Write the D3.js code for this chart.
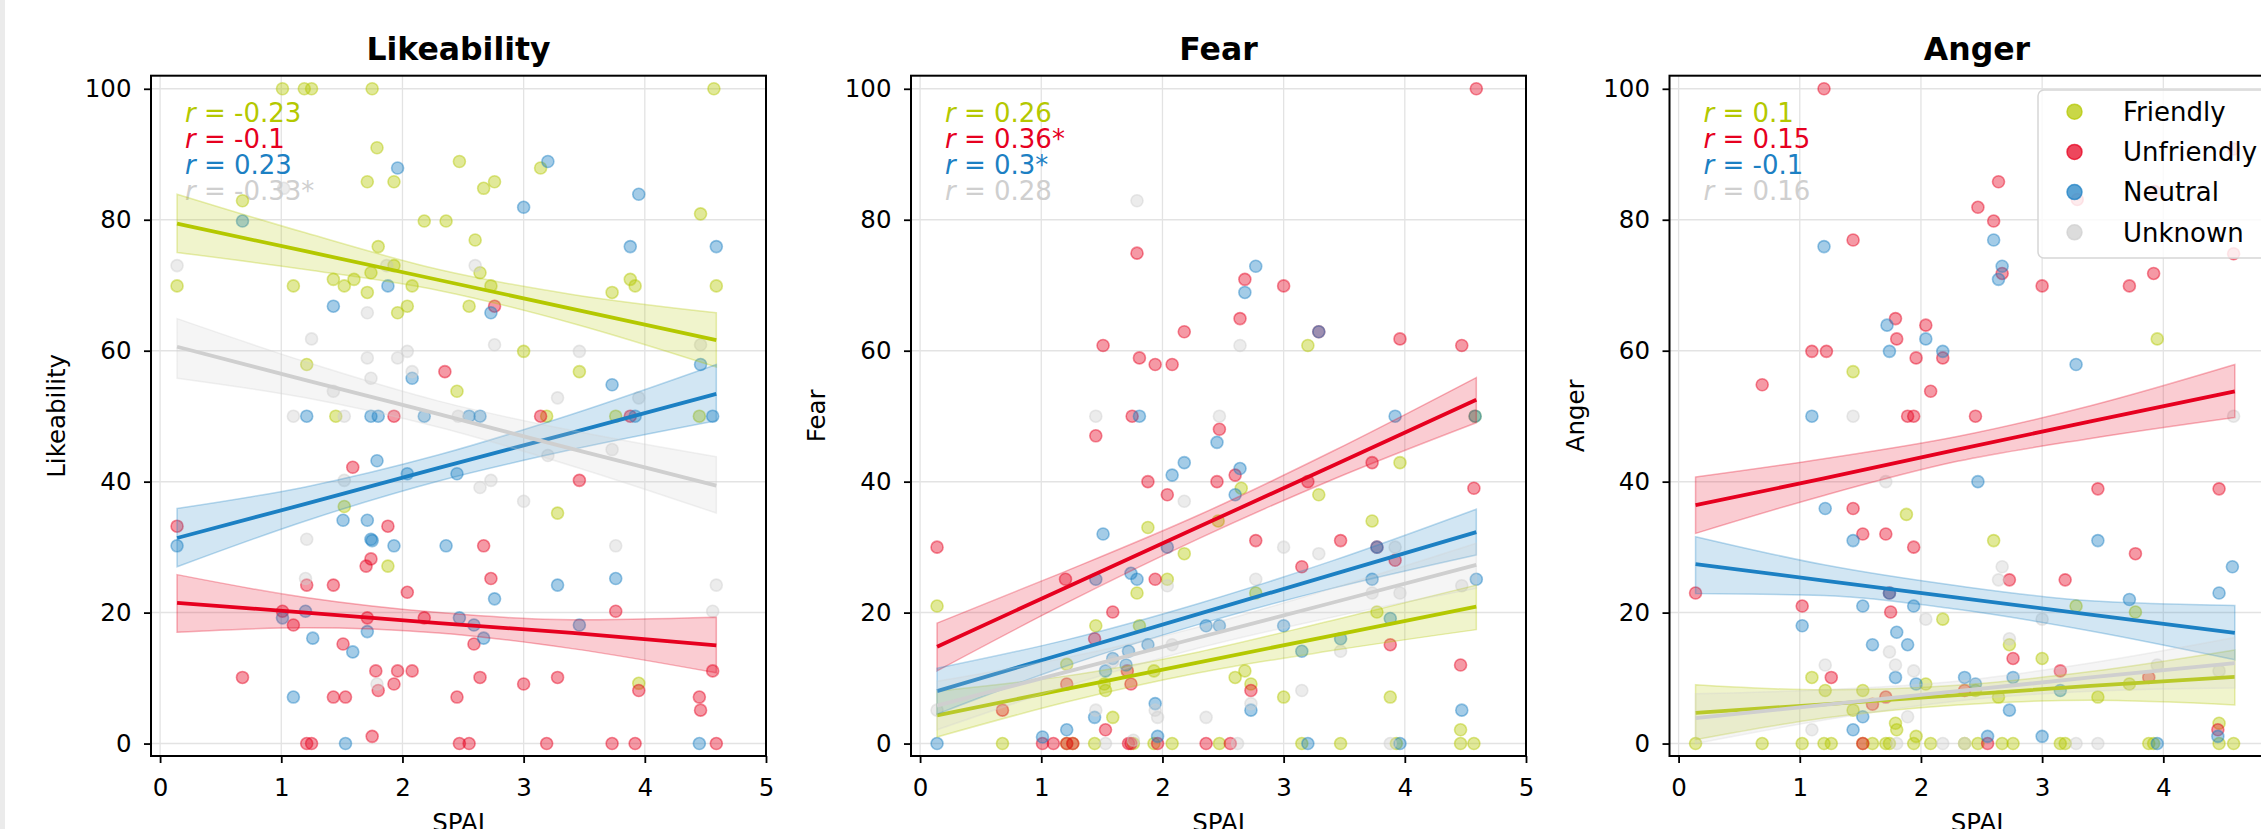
<!DOCTYPE html>
<html><head><meta charset="utf-8">
<script src="https://cdn.jsdelivr.net/npm/d3@7"></script>
<style>
html,body{margin:0;padding:0;background:#fff;overflow:hidden}
svg{display:block;font-family:"DejaVu Sans",sans-serif}
</style></head><body>
<svg id="chart" width="2261" height="829"></svg>
<script>
// ---------------- DATA ----------------
const panels = ["Likeability", "Fear", "Anger"];
const groups = ["Friendly", "Unfriendly", "Neutral", "Unknown"];
const xTicks = [0, 1, 2, 3, 4, 5];
const yTicks = [0, 20, 40, 60, 80, 100];
const xLabel = "SPAI";

const rLikeability = ["-0.23", "-0.1", "0.23", "-0.33*"];
const rFear = ["0.26", "0.36*", "0.3*", "0.28"];
const rAnger = ["0.1", "0.15", "-0.1", "0.16"];

// scatter points [SPAI, score]
const likeFriendly = [[1.01,100],[1.19,100],[1.25,100],[1.75,100],[4.57,100],[1.79,91],[2.47,88.9],[3.14,87.9],[1.71,85.8],[1.93,85.8],[2.76,85.8],[2.67,84.8],[0.68,82.9],[4.46,80.9],[2.18,79.8],[2.36,79.8],[2.60,76.9],[1.80,75.9],[1.93,73],[2.64,71.9],[1.43,70.9],[1.60,70.9],[3.88,70.9],[3.92,69.9],[0.14,69.9],[1.10,69.9],[1.52,69.9],[2.08,69.9],[2.73,69.9],[3.73,68.9],[4.59,69.9],[1.74,71.9],[1.71,68.9],[2.04,66.8],[1.96,65.8],[2.55,66.8],[3.0,59.9],[1.21,57.9],[3.46,56.8],[2.45,53.8],[1.45,50],[3.19,50],[3.76,50],[4.45,50],[1.52,36.2],[3.28,35.2],[1.88,27.1],[3.95,9.2]];
const likeUnfriendly = [[2.76,66.8],[2.35,56.8],[1.93,50],[3.14,50],[3.88,50],[1.59,42.2],[3.46,40.2],[0.14,33.2],[1.88,33.2],[2.67,30.2],[1.74,28.2],[1.70,27.1],[2.73,25.2],[1.21,24.2],[1.43,24.2],[2.04,23.1],[1.01,20.2],[3.76,20.2],[1.10,18.1],[1.71,19.2],[2.18,19.2],[1.51,15.2],[2.59,15.2],[0.68,10.1],[1.78,11.1],[1.96,11.1],[2.08,11.1],[2.64,10.1],[3.28,10.1],[4.56,11.1],[3.0,9.1],[1.93,9.1],[1.80,8.1],[3.95,8.1],[1.43,7.1],[1.53,7.1],[2.45,7.1],[4.45,7.1],[4.46,5.1],[1.75,1.1],[1.21,0],[1.25,0],[2.47,0],[2.55,0],[3.19,0],[3.73,0],[3.92,0],[4.59,0]];
const likeNeutral = [[1.96,87.9],[3.20,88.9],[3.95,83.9],[3.0,81.9],[0.68,79.8],[3.88,75.9],[4.59,75.9],[1.88,69.9],[1.43,66.8],[2.73,65.8],[2.08,55.8],[3.73,54.8],[4.46,57.9],[1.21,50],[1.74,50],[1.80,50],[2.18,50],[2.55,50],[2.64,50],[3.92,50],[4.56,50],[1.79,43.2],[2.04,41.2],[2.45,41.2],[1.51,34.1],[1.71,34.1],[1.74,31.2],[1.75,31.0],[0.14,30.2],[1.93,30.2],[2.36,30.2],[3.76,25.2],[3.28,24.2],[2.76,22.1],[1.01,19.2],[1.20,20.2],[2.47,19.2],[2.59,18.1],[3.46,18.1],[1.71,17.1],[1.26,16.1],[2.67,16.1],[1.59,14.0],[1.10,7.1],[1.53,0],[4.45,0]];
const likeUnknown = [[1.02,84.8],[0.14,73.0],[1.87,73],[2.60,73],[1.71,65.8],[1.25,61.8],[2.04,59.9],[1.71,58.9],[1.96,58.9],[2.76,60.9],[3.46,59.9],[4.46,60.9],[1.74,55.8],[2.08,56.8],[1.43,53.8],[3.28,52.8],[3.95,52.8],[1.10,50],[1.52,50],[2.46,50],[3.73,44.9],[3.20,44.0],[1.52,40.2],[2.64,39.1],[2.73,40.2],[3.0,37.0],[1.21,31.2],[3.76,30.2],[1.20,25.2],[4.59,24.2],[4.56,20.2],[1.79,9.1]];

const fearFriendly = [[3.20,60.8],[4.58,50],[2.65,39.0],[3.29,38.0],[3.96,42.9],[1.88,33.0],[2.46,34.0],[3.73,34.0],[2.18,29.0],[2.04,25.1],[1.79,23.0],[2.77,23.0],[0.14,21.0],[3.77,20.1],[1.45,18.0],[1.81,18.0],[1.93,11.1],[2.68,11.1],[1.21,12.1],[1.52,9.1],[1.53,8.1],[2.60,10.1],[2.73,9.1],[3.0,7.1],[3.88,7.1],[1.59,4.0],[4.46,2.1],[0.68,0],[1.21,0],[1.44,0],[1.76,0],[1.93,0],[2.08,0],[2.47,0],[3.15,0],[3.47,0],[3.93,0],[4.46,0],[4.57,0],[1.26,0]];
const fearUnfriendly = [[4.59,100],[1.79,74.9],[2.68,70.9],[3.0,69.9],[2.64,64.9],[2.18,62.9],[3.29,62.9],[1.51,60.8],[3.96,61.8],[4.47,60.8],[1.81,58.9],[1.94,57.9],[2.08,57.9],[1.75,50],[1.45,47.0],[2.47,48.0],[2.60,41.0],[1.88,40.0],[2.45,40.0],[2.04,38.0],[3.20,40.0],[3.73,42.9],[4.57,39.0],[0.14,30.0],[2.77,31.0],[3.47,31.0],[3.77,30.0],[3.92,28.0],[1.20,25.1],[1.94,25.1],[3.15,27.0],[1.59,20.1],[1.44,16.0],[3.88,15.1],[1.71,11.1],[4.46,12.0],[1.21,9.1],[1.74,9.1],[2.73,8.1],[0.68,5.1],[1.53,2.1],[1.01,0],[1.10,0],[1.21,0],[1.26,0],[1.72,0],[1.74,0],[1.96,0],[2.36,0],[2.56,0]];
const fearNeutral = [[2.77,72.9],[2.68,68.9],[3.29,62.9],[1.81,50],[3.92,50],[4.58,50],[2.45,46.0],[2.18,42.9],[2.08,41.0],[2.64,42.0],[2.60,38.0],[1.51,32.0],[2.04,30.0],[3.77,30.0],[1.45,25.1],[1.74,26.0],[1.79,25.1],[3.73,25.1],[4.59,25.1],[3.88,19.1],[2.36,18.0],[2.47,18.0],[3.0,18.0],[1.88,15.1],[3.47,16.0],[3.15,14.1],[1.59,13.0],[1.72,14.1],[1.70,12.0],[1.53,11.1],[2.73,5.1],[4.47,5.1],[1.94,6.1],[1.44,4.0],[1.21,2.1],[1.96,1.1],[0.14,0],[1.01,1.0],[3.20,0],[3.96,0]];
const fearUnknown = [[1.79,82.9],[2.64,60.8],[1.45,50],[2.47,50],[2.18,37.0],[3.0,30.0],[3.29,29.0],[3.92,30.0],[2.04,24.1],[2.77,25.1],[3.73,23.0],[3.96,23.0],[4.47,24.1],[2.08,15.1],[3.47,14.1],[2.73,6.1],[3.15,8.1],[0.14,5.1],[1.45,5.1],[1.94,5.1],[1.96,4.0],[2.36,4.0],[1.53,0],[2.62,0],[3.88,0],[1.76,0.5],[1.59,12.5]];

const angerFriendly = [[3.95,61.8],[1.44,56.8],[1.88,35.0],[2.60,31.0],[3.28,21.0],[3.77,20.1],[2.18,19.0],[2.73,15.1],[3.0,13.0],[1.10,10.1],[2.04,9.1],[3.72,9.1],[1.21,8.1],[1.52,8.1],[2.45,8.1],[2.64,7.1],[3.46,7.1],[1.44,5.1],[1.79,3.1],[1.80,2.1],[1.96,1.1],[4.46,3.1],[0.14,0],[0.69,0],[1.02,0],[1.20,0],[1.26,0],[1.52,0],[1.60,0],[1.71,0],[1.74,0],[1.94,0],[2.08,0],[2.36,0],[2.47,0],[2.67,0],[2.76,0],[3.15,0],[3.19,0],[3.88,0],[3.92,0],[4.46,0],[4.58,0]];
const angerUnfriendly = [[1.20,100],[4.58,90.8],[2.64,85.8],[3.93,84.3],[3.29,83.1],[2.47,81.9],[2.60,79.8],[1.44,76.9],[4.58,74.8],[2.67,71.8],[3.0,69.9],[3.72,69.9],[3.92,71.8],[1.79,64.9],[2.04,63.9],[1.80,61.8],[1.10,59.9],[1.22,59.9],[1.96,58.9],[2.18,58.9],[0.69,54.8],[2.08,53.8],[1.89,50],[1.94,50],[2.45,50],[3.46,38.9],[4.46,38.9],[1.44,35.9],[1.52,32.0],[1.71,32.0],[1.94,30.0],[3.77,29.0],[2.73,25.0],[3.19,25.0],[0.14,23.0],[1.74,23.0],[1.02,21.0],[1.75,20.1],[2.76,13.0],[3.15,11.1],[1.26,10.1],[3.88,10.1],[2.36,8.1],[1.71,7.1],[1.60,6.0],[4.45,2.1],[1.52,0],[2.55,0]];
const angerNeutral = [[1.20,75.9],[2.60,76.9],[2.67,72.9],[2.64,70.9],[1.72,63.9],[2.04,61.8],[1.74,59.9],[2.18,59.9],[3.28,57.9],[1.10,50],[2.47,40.0],[1.21,35.9],[1.44,31.0],[3.46,31.0],[4.57,27.0],[1.74,23.0],[4.46,23.0],[3.72,22.0],[1.52,21.0],[1.94,21.0],[1.02,18.0],[1.80,17.0],[1.60,15.1],[1.89,15.1],[1.79,10.1],[2.36,10.1],[2.76,10.1],[1.96,9.1],[2.45,9.1],[3.15,8.1],[1.52,4.1],[2.73,5.1],[1.44,2.1],[2.55,1.1],[3.0,1.1],[4.45,1.1],[3.95,0]];
const angerUnknown = [[1.44,50],[4.58,50],[1.71,40.0],[2.67,27.0],[2.64,25.0],[2.04,19.0],[3.0,19.0],[2.73,16.0],[1.21,12.0],[1.79,12.0],[1.94,11.1],[3.95,12.0],[4.46,11.1],[1.89,4.1],[1.10,2.1],[1.80,0],[2.18,0],[3.28,0],[3.46,0],[1.74,14.0],[2.36,0]];

// regression fit: x positions and fitted / lower CI / upper CI values
const fitX = [0.14, 1.2, 2.3, 3.4, 4.59];
const fitLikeFriendly   = {mid:[79.4,75.2,70.8,66.4,61.6], lo:[75.0,72.4,69.2,64.2,57.5], hi:[83.9,78.0,72.4,68.6,65.8]};
const fitLikeUnfriendly = {mid:[21.5,20.0,18.4,16.9,15.0], lo:[17.0,17.7,16.9,14.5,10.8], hi:[25.8,22.3,20.0,18.9,19.3]};
const fitLikeNeutral    = {mid:[31.4,36.6,42.1,47.5,53.4], lo:[27.0,34.0,40.1,44.9,49.3], hi:[35.9,39.2,44.1,50.3,57.9]};
const fitLikeUnknown    = {mid:[60.6,55.5,50.3,45.0,39.4], lo:[55.8,52.8,48.3,42.4,35.2], hi:[64.9,58.3,52.3,47.8,43.8]};
const fitFearFriendly   = {mid:[4.3,8.3,12.4,16.5,20.9], lo:[1.0,6.3,10.8,14.2,17.4], hi:[8.0,10.3,14.0,18.8,24.2]};
const fitFearUnfriendly = {mid:[14.8,23.8,33.1,42.4,52.5], lo:[11.1,21.4,31.3,40.3,49.0], hi:[18.4,26.3,34.9,44.6,55.9]};
const fitFearNeutral    = {mid:[8.0,13.8,19.8,25.8,32.3], lo:[4.5,11.8,18.2,23.7,28.8], hi:[11.5,15.8,21.4,27.9,35.8]};
const fitFearUnknown    = {mid:[5.8,10.9,16.2,21.5,27.3], lo:[2.1,8.7,14.6,19.3,23.7], hi:[9.5,13.1,17.8,23.7,30.6]};
const fitAngerFriendly   = {mid:[4.7,6.0,7.4,8.8,10.2], lo:[0.6,3.9,5.9,6.6,5.9], hi:[9.0,8.2,8.9,11.0,14.3]};
const fitAngerUnfriendly = {mid:[36.4,40.5,44.9,49.2,53.8], lo:[32.1,37.9,43.1,46.6,49.8], hi:[40.7,43.5,46.9,51.6,57.9]};
const fitAngerNeutral    = {mid:[27.4,24.9,22.3,19.7,16.9], lo:[22.9,22.6,20.5,17.2,12.8], hi:[31.6,27.3,24.1,21.8,21.1]};
const fitAngerUnknown    = {mid:[3.9,5.9,8.0,10.1,12.3], lo:[0.0,3.6,6.5,8.0,8.5], hi:[7.6,8.2,9.5,12.3,16.2]};

// ---------------- ASSEMBLY ----------------
const colors = {Friendly:"#b4c800", Unfriendly:"#e6001f", Neutral:"#1c80c3", Unknown:"#cfcfcf"};
const panelPoints = {
  Likeability:[likeFriendly, likeUnfriendly, likeNeutral, likeUnknown],
  Fear:[fearFriendly, fearUnfriendly, fearNeutral, fearUnknown],
  Anger:[angerFriendly, angerUnfriendly, angerNeutral, angerUnknown]
};
const panelFits = {
  Likeability:[fitLikeFriendly, fitLikeUnfriendly, fitLikeNeutral, fitLikeUnknown],
  Fear:[fitFearFriendly, fitFearUnfriendly, fitFearNeutral, fitFearUnknown],
  Anger:[fitAngerFriendly, fitAngerUnfriendly, fitAngerNeutral, fitAngerUnknown]
};
const panelR = {Likeability:rLikeability, Fear:rFear, Anger:rAnger};

const W = 2261, H = 829;
const svg = d3.select("#chart");
svg.append("rect").attr("width", W).attr("height", H).attr("fill", "#fff");
svg.append("rect").attr("x", 0).attr("y", 0).attr("width", 5).attr("height", H).attr("fill", "#ebebeb");

const panelLeft = [151, 911, 1669.5], pw = 615, plotTop = 75.7, plotBottom = 756;
const tickFont = 24.5, tickLen = 7;

panels.forEach((p, i) => {
  const L = panelLeft[i];
  const x = d3.scaleLinear().domain([-0.075, 5]).range([L, L + pw]);
  const y = d3.scaleLinear().domain([-1.9, 102]).range([plotBottom, plotTop]);
  const g = svg.append("g");

  const clipId = "clip" + i;
  svg.append("clipPath").attr("id", clipId).append("rect")
    .attr("x", L).attr("y", plotTop).attr("width", pw).attr("height", plotBottom - plotTop);

  // grid
  const grid = g.append("g").attr("clip-path", `url(#${clipId})`);
  grid.selectAll(".gx").data(xTicks).join("line")
    .attr("x1", d => x(d)).attr("x2", d => x(d)).attr("y1", plotTop).attr("y2", plotBottom)
    .attr("stroke", "#e3e3e3").attr("stroke-width", 1.3);
  grid.selectAll(".gy").data(yTicks).join("line")
    .attr("y1", d => y(d)).attr("y2", d => y(d)).attr("x1", L).attr("x2", L + pw)
    .attr("stroke", "#e3e3e3").attr("stroke-width", 1.5);

  // r annotations
  const rl = panelR[p];
  const tg = g.append("g");
  rl.forEach((r, k) => {
    const t = tg.append("text").attr("x", L + 34).attr("y", plotTop + 46 + k * 26.2)
      .attr("font-size", 26).attr("fill", colors[groups[k]]);
    t.append("tspan").attr("font-style", "italic").text("r");
    t.append("tspan").text(" = " + r);
  });

  const plot = g.append("g").attr("clip-path", `url(#${clipId})`);
  // scatter
  panelPoints[p].forEach((pts, k) => {
    const c = colors[groups[k]];
    plot.append("g").selectAll("circle").data(pts).join("circle")
      .attr("cx", d => x(d[0])).attr("cy", d => y(d[1])).attr("r", 6)
      .attr("fill", c).attr("fill-opacity", 0.4)
      .attr("stroke", c).attr("stroke-opacity", 0.45).attr("stroke-width", 1.6);
  });
  // regression bands + lines
  panelFits[p].forEach((f, k) => {
    const c = colors[groups[k]];
    const rows = fitX.map((xx, j) => ({x: xx, mid: f.mid[j], lo: f.lo[j], hi: f.hi[j]}));
    const area = d3.area().x(d => x(d.x)).y0(d => y(d.lo)).y1(d => y(d.hi)).curve(d3.curveMonotoneX);
    plot.append("path").attr("d", area(rows)).attr("fill", c).attr("fill-opacity", 0.2)
      .attr("stroke", c).attr("stroke-opacity", 0.3).attr("stroke-width", 1.5);
    const line = d3.line().x(d => x(d.x)).y(d => y(d.mid));
    plot.append("path").attr("d", line(rows)).attr("fill", "none")
      .attr("stroke", c).attr("stroke-width", 3.8);
  });

  // axes
  const ax = g.append("g").attr("transform", `translate(0,${plotBottom})`)
    .call(d3.axisBottom(x).tickValues(xTicks).tickFormat(d3.format("d")).tickSize(tickLen).tickSizeOuter(0).tickPadding(15.5));
  const ay = g.append("g").attr("transform", `translate(${L},0)`)
    .call(d3.axisLeft(y).tickValues(yTicks).tickFormat(d3.format("d")).tickSize(tickLen).tickSizeOuter(0).tickPadding(12.5));
  [ax, ay].forEach(a => {
    a.select(".domain").remove();
    a.selectAll("line").attr("stroke", "#000").attr("stroke-width", 1.8);
    a.selectAll("text").attr("font-size", tickFont).attr("fill", "#000")
      .attr("font-family", '"DejaVu Sans",sans-serif');
  });

  // spines
  g.append("rect").attr("x", L).attr("y", plotTop).attr("width", pw).attr("height", plotBottom - plotTop)
    .attr("fill", "none").attr("stroke", "#000").attr("stroke-width", 2);

  // titles and labels
  g.append("text").attr("x", L + pw / 2).attr("y", 60).attr("text-anchor", "middle")
    .attr("font-size", 31.5).attr("font-weight", "bold").text(p);
  g.append("text").attr("x", L + pw / 2).attr("y", 831).attr("text-anchor", "middle")
    .attr("font-size", tickFont).text(xLabel);
  g.append("text").attr("transform", `translate(${L - 86},${(plotTop + plotBottom) / 2}) rotate(-90)`)
    .attr("text-anchor", "middle").attr("font-size", tickFont).text(p);
});

// legend (in the Anger panel, upper right)
const lg = svg.append("g");
lg.append("rect").attr("x", 2038).attr("y", 90).attr("width", 238).attr("height", 168).attr("rx", 6)
  .attr("fill", "#fff").attr("fill-opacity", 0.8).attr("stroke", "#d6d6d6").attr("stroke-width", 1.5);
groups.forEach((gname, k) => {
  const cy = 111.7 + k * 40.2;
  lg.append("circle").attr("cx", 2074.5).attr("cy", cy).attr("r", 7.5)
    .attr("fill", colors[gname]).attr("fill-opacity", 0.72)
    .attr("stroke", colors[gname]).attr("stroke-opacity", 0.72).attr("stroke-width", 1.5);
  lg.append("text").attr("x", 2123).attr("y", cy).attr("dy", "0.36em")
    .attr("font-size", 26).attr("fill", "#000").text(gname);
});
</script>
</body></html>
